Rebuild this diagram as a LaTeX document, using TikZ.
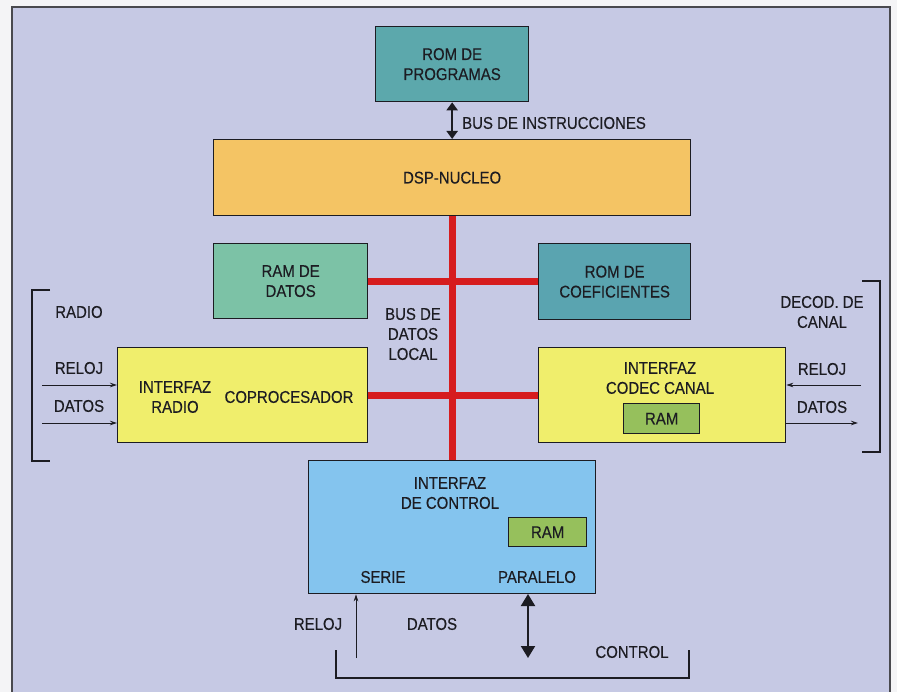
\documentclass[tikz,border=0pt]{standalone}
\usepackage{fontspec}
\setmainfont{Liberation Sans}[FakeStretch=0.88,FakeBold=0.3]
\usetikzlibrary{arrows.meta}
\definecolor{pagebg}{RGB}{244,244,246}
\definecolor{bgl}{RGB}{198,201,228}
\definecolor{romp}{RGB}{92,168,172}
\definecolor{dspc}{RGB}{244,196,100}
\definecolor{ramd}{RGB}{124,194,166}
\definecolor{romc}{RGB}{90,164,176}
\definecolor{intf}{RGB}{240,238,108}
\definecolor{ctrl}{RGB}{132,196,238}
\definecolor{ramg}{RGB}{150,192,92}
\definecolor{busred}{RGB}{214,28,30}
\definecolor{ink}{RGB}{28,28,34}
\newcommand{\lblfont}{\fontsize{17}{20}\selectfont}
\tikzset{
  blk/.style={draw=ink, line width=1.3pt, inner sep=0pt, anchor=north west, font=\lblfont, align=center, text=ink},
  lbl/.style={font=\lblfont, align=center, text=ink, inner sep=0pt},
  bus/.style={draw=busred, line width=7pt},
  thinarrow/.style={draw=ink, line width=0.9pt, -{Stealth[length=7pt,width=4.5pt]}},
  bigarrow/.style={draw=ink, line width=2pt, {Triangle[length=12pt,width=14pt]}-{Triangle[length=12pt,width=14pt]}},
  midarrow/.style={draw=ink, line width=2pt, {Triangle[length=8pt,width=11pt]}-{Triangle[length=8pt,width=11pt]}},
  brk/.style={draw=ink, line width=1.3pt},
}
\begin{document}
\begin{tikzpicture}[x=1pt,y=-1pt]
\useasboundingbox (0,0) rectangle (897,692);
\fill[pagebg] (0,0) rectangle (897,692);
\begin{scope}
\clip (0,0) rectangle (897,692);
\draw[fill=bgl, draw=ink!80, line width=1.5pt] (12,7) rectangle (890,710);
\end{scope}

% blocks
\node[blk, fill=romp, minimum width=153pt, minimum height=75pt] (romp) at (375,26) {ROM DE\\PROGRAMAS};
\node[blk, fill=dspc, minimum width=477pt, minimum height=76pt] (dsp) at (213,139) {DSP-NUCLEO};
\node[blk, fill=ramd, minimum width=154pt, minimum height=75pt] (ramd) at (213,243) {RAM DE\\DATOS};
\node[blk, fill=romc, minimum width=152pt, minimum height=76pt] (romc) at (538,243) {ROM DE\\COEFICIENTES};
\node[blk, fill=intf, minimum width=250pt, minimum height=95pt] (radio) at (117,347) {};
\node[blk, fill=intf, minimum width=247pt, minimum height=95pt] (codec) at (538,347) {};
\node[blk, fill=ctrl, minimum width=287pt, minimum height=133pt] (ctrl) at (308,460) {};
\node[blk, fill=ramg, minimum width=76pt, minimum height=30pt] (ramc) at (623,403) {RAM};
\node[blk, fill=ramg, minimum width=78pt, minimum height=29pt] (ramk) at (508,517) {RAM};

% texts inside blocks
\node[lbl] (tradio) at (175,397) {INTERFAZ\\RADIO};
\node[lbl] (tcop) at (289,397) {COPROCESADOR};
\node[lbl] (tcodec) at (660,378) {INTERFAZ\\CODEC CANAL};
\node[lbl] (tctrl) at (450,493) {INTERFAZ\\DE CONTROL};
\node[lbl] (tserie) at (383,577) {SERIE};
\node[lbl] (tpar) at (537,577) {PARALELO};

% buses
\draw[bus] (dsp.south) -- (ctrl.north);
\draw[bus] (ramd.east) -- (ramd.east -| romc.west);
\draw[bus] (radio.east) -- (radio.east -| codec.west);
\draw[midarrow] (romp.south) -- (dsp.north);
\node[lbl, anchor=west] (tbi) at (462,123) {BUS DE INSTRUCCIONES};
\node[lbl] (tbdl) at (413,334) {BUS DE\\DATOS\\LOCAL};

% left side
\node[lbl] (tradiol) at (79,312) {RADIO};
\node[lbl] (trelojl) at (79,368) {RELOJ};
\node[lbl] (tdatosl) at (79,406) {DATOS};
\coordinate (l1) at (42,385);
\coordinate (l2) at (42,423);
\draw[thinarrow] (l1) -- (l1 -| radio.west);
\draw[thinarrow] (l2) -- (l2 -| radio.west);
\coordinate (lb1) at (50,290);
\coordinate (lb2) at (50,461);
\draw[brk] (lb1) -- ++(-18,0) |- (lb2);

% right side
\node[lbl] (tdecod) at (822,312) {DECOD. DE\\CANAL};
\node[lbl] (trelojr) at (822,369) {RELOJ};
\node[lbl] (tdatosr) at (822,407) {DATOS};
\coordinate (r1) at (861,385);
\coordinate (r2) at (858,423);
\draw[thinarrow] (r1) -- (r1 -| codec.east);
\draw[thinarrow] (r2 -| codec.east) -- (r2);
\coordinate (rb1) at (862,281);
\coordinate (rb2) at (862,452);
\draw[brk] (rb1) -- ++(18,0) |- (rb2);

% bottom
\node[lbl] (trelojb) at (318,624) {RELOJ};
\node[lbl] (tdatosb) at (432,624) {DATOS};
\node[lbl] (tcontrol) at (632,652) {CONTROL};
\coordinate (b1) at (356,658);
\draw[thinarrow] (b1) -- (b1 |- ctrl.south);
\coordinate (b2) at (528,594);
\coordinate (b3) at (528,658);
\draw[bigarrow] (b2) -- (b3);
\coordinate (bb1) at (336,650);
\coordinate (bb2) at (689,650);
\draw[brk] (bb1) |- (689,678) -- (bb2);
\end{tikzpicture}
\end{document}
